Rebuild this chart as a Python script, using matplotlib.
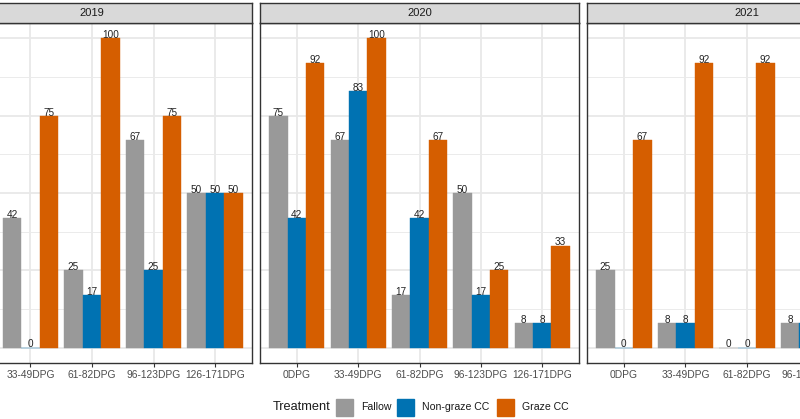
import matplotlib
matplotlib.use("Agg")
import matplotlib.pyplot as plt
from matplotlib.patches import Rectangle
import numpy as np

plt.rcParams['font.family'] = ['Liberation Sans', 'DejaVu Sans']

# data (nan = outside the cropped picture)
stages = ['0DPG', '33-49DPG', '61-82DPG', '96-123DPG', '126-171DPG']
years = ['2019', '2020', '2021']
treatments = ['Fallow', 'Non-graze CC', 'Graze CC']
colors = ['#999999', '#0072B2', '#D55E00']

fallow = {
    '2019': [np.nan, 42, 25, 67, 50],
    '2020': [75, 67, 17, 50, 8],
    '2021': [25, 8, 0, 8, np.nan],
}
nongraze = {
    '2019': [np.nan, 0, 17, 25, 50],
    '2020': [42, 83, 42, 17, 8],
    '2021': [0, 8, 0, 8, np.nan],
}
graze = {
    '2019': [np.nan, 75, 100, 75, 50],
    '2020': [92, 100, 67, 25, 33],
    '2021': [67, 92, 92, np.nan, np.nan],
}

W, H = 800, 419
fig = plt.figure(figsize=(W / 100, H / 100), dpi=100)

# panel placement in pixels (left, right); the outer panels are cut by the crop
panels = {'2019': (-68, 252), '2020': (260, 579), '2021': (587, 907)}
top, bottom, strip_top = 23, 363, 3


def px(l, r, t, b):
    return [l / W, 1 - b / H, (r - l) / W, (b - t) / H]


bw = 0.3
x = np.arange(len(stages))
for yr in years:
    l, r = panels[yr]
    ax = fig.add_axes(px(l, r, top, bottom))
    ax.set_xlim(-0.6, len(stages) - 0.4)
    ax.set_ylim(-5, 105)
    ax.set_yticks([0, 25, 50, 75, 100])
    ax.set_yticks([12.5, 37.5, 62.5, 87.5], minor=True)
    ax.set_xticks(x)
    ax.set_xticklabels(stages)
    ax.grid(True, which='major', color='#E8E8E8', lw=1.3)
    ax.grid(True, which='minor', axis='y', color='#EBEBEB', lw=0.7)
    ax.set_axisbelow(True)
    ax.tick_params(axis='y', left=False, labelleft=False, which='both')
    ax.tick_params(axis='x', length=3, width=0.8, color='#333333',
                   labelsize=7.4, labelcolor='#4D4D4D', pad=2)
    for s in ax.spines.values():
        s.set_color('#333333')
        s.set_linewidth(1.0)

    for k, vals in enumerate([fallow[yr], nongraze[yr], graze[yr]]):
        xs = x + (k - 1) * bw
        for xi, v in zip(xs, vals):
            if np.isnan(v):
                continue
            ax.bar(xi, v, width=bw, color=colors[k],
                   edgecolor=colors[k], lw=0.3)
            ax.text(xi, v - 0.6, f'{v:.0f}', ha='center', va='bottom',
                    fontsize=7.2, color='#222222')

    # facet strip
    sax = fig.add_axes(px(l, r, strip_top, top))
    sax.set_xticks([])
    sax.set_yticks([])
    sax.set_facecolor('#D9D9D9')
    for s in sax.spines.values():
        s.set_color('#333333')
        s.set_linewidth(1.0)
    sax.text(0.5, 0.5, yr, ha='center', va='center', fontsize=8,
             color='#1A1A1A', transform=sax.transAxes)

# legend drawn at the bottom
ly = 1 - 407 / H
fig.text(273 / W, ly, 'Treatment', ha='left', va='center', fontsize=9.2,
         color='#1A1A1A')
keys = [(336, 361), (397, 422), (497, 522)]
for (kx, tx), name, c in zip(keys, treatments, colors):
    fig.patches.append(Rectangle((kx / W, 1 - 416 / H), 17 / W, 17 / H,
                                 transform=fig.transFigure, color=c))
    fig.text(tx / W, ly, name, ha='left', va='center', fontsize=7.6,
             color='#1A1A1A')

fig.savefig('out.png', dpi=100)
